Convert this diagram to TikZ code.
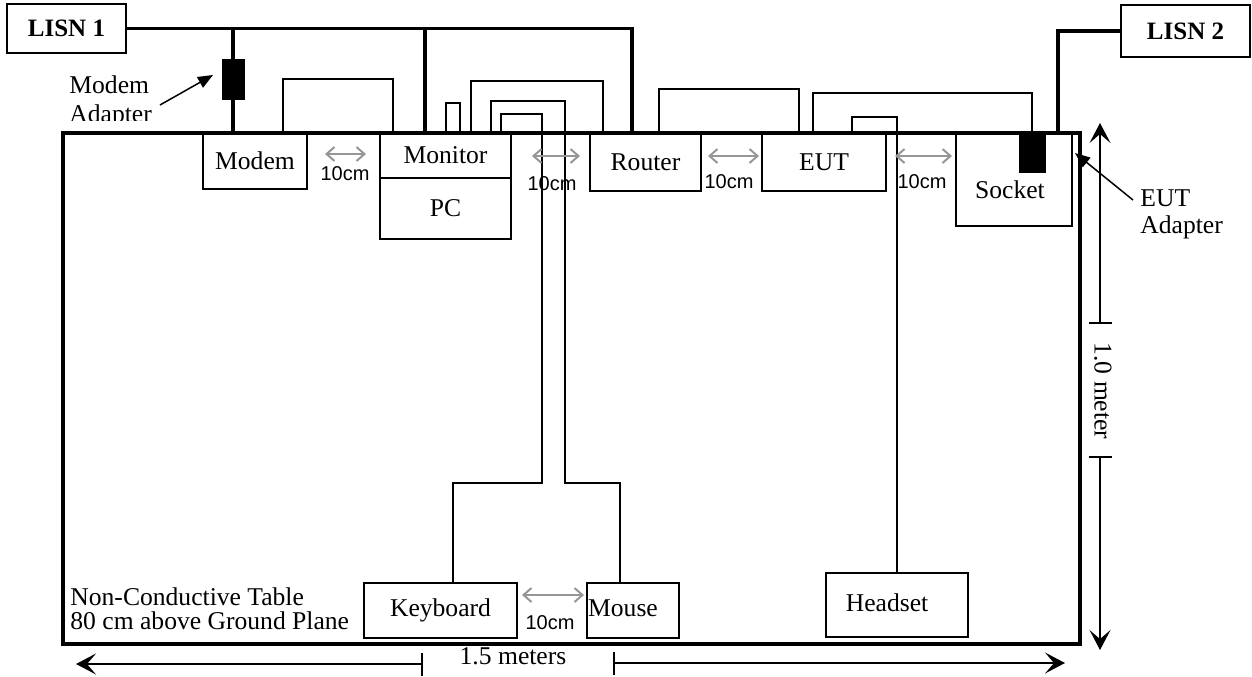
\documentclass[tikz,border=0pt]{standalone}
\usepackage{fontspec}
\setmainfont{Liberation Serif}
\newfontfamily\arialf{Liberation Sans}
\usetikzlibrary{arrows.meta,calc}
\definecolor{dimgrey}{RGB}{150,150,150}
\begin{document}
\begin{tikzpicture}[x=0.5pt,y=-0.5pt,
  txt/.style={font=\fontsize{12.8}{14}\selectfont, inner sep=0pt},
  box/.style={draw, line width=0.9pt, inner sep=0pt, outer sep=0pt, font=\fontsize{12.8}{14}\selectfont},
  lisnbox/.style={box, font=\fontsize{12.5}{14}\selectfont\bfseries},
  adapt/.style={draw, fill=black, line width=0.5pt, inner sep=0pt, outer sep=0pt},
  cable/.style={line width=0.75pt},
  power/.style={line width=1.6pt},
  gap/.style={draw=dimgrey, line width=1pt, {Straight Barb[length=4pt,width=7pt]}-{Straight Barb[length=4pt,width=7pt]}},
  gaptxt/.style={font=\arialf\fontsize{10}{12}\selectfont, inner sep=0pt},
  dimarrow/.style={line width=0.8pt, {Bar[width=11.5pt]}-{Stealth[length=10pt,width=10.5pt,inset=4.5pt]}},
  pointer/.style={line width=0.75pt, -{Triangle[length=7.5pt,width=6pt]}}
]
\useasboundingbox (0,0) rectangle (1252,676);

% boxes
\node[lisnbox, minimum width=59.5pt, minimum height=24.5pt] (lisn1) at (66.5,28.5) {LISN 1};
\node[lisnbox, minimum width=64.5pt, minimum height=26pt] (lisn2) at (1185.5,31) {LISN 2};
\node[box, minimum width=52pt, minimum height=28pt] (modem) at (255,161) {Modem};
\node[box, minimum width=65.5pt, minimum height=22.5pt] (monitor) at (445.5,155.5) {Monitor};
\node[box, minimum width=65.5pt, minimum height=30.5pt] (pc) at (445.5,208.5) {PC};
\node[box, minimum width=55.5pt, minimum height=29pt] (router) at (645.5,162) {Router};
\node[box, minimum width=62pt, minimum height=29pt] (eut) at (824,162) {EUT};
\node[box, minimum width=58pt, minimum height=46.5pt] (socket) at (1014,179.5) {};
\node[txt] (sockettxt) at (1010,190) {Socket};
\node[box, minimum width=76.5pt, minimum height=27.5pt] (keyboard) at (440.5,610.5) {Keyboard};
\node[box, minimum width=46pt, minimum height=27.5pt] (mouse) at (633,610.5) {};
\node[txt] (mousetxt) at (623,608) {Mouse};
\node[box, minimum width=71pt, minimum height=32pt] (headset) at (897,605) {};
\node[txt] (headsettxt) at (887,603) {Headset};

% adapters
\node[adapt, minimum width=11pt, minimum height=20pt] (madapt) at (233,79) {};
\node[adapt, minimum width=13pt, minimum height=19.5pt] (eadapt) at (1032,152.5) {};

% table
\draw[line width=1.8pt] (63,133) rectangle (1080,644);

% power lines
\draw[power] (lisn1.east) -| ($(router.north west)+(42,0)$);
\draw[power] (madapt.north) -- (madapt.north |- lisn1.east);
\draw[power] (madapt.south) -- (madapt.south |- modem.north);
\coordinate (m1) at ($(monitor.north west)+(45,0)$);
\draw[power] (m1) -- (m1 |- lisn1.east);
\draw[power] (lisn2.west) -| ($(socket.north west)+(102,0)$);

% cables
\draw[cable] ($(modem.north west)+(80,0)$) -- ++(0,-54) -| ($(monitor.north west)+(13,0)$);
\draw[cable] ($(monitor.north west)+(66,0)$) -- ++(0,-30) -| ($(monitor.north west)+(80,0)$);
\draw[cable] ($(monitor.north west)+(91,0)$) -- ++(0,-52) -| ($(router.north west)+(13,0)$);
\draw[cable] ($(monitor.north west)+(121,0)$) -- ++(0,-19) -- ++(41,0) -- ++(0,369) -| ($(keyboard.north west)+(89,0)$);
\draw[cable] ($(monitor.north west)+(111,0)$) -- ++(0,-32) -- ++(74,0) -- ++(0,382) -| ($(mouse.north west)+(33,0)$);
\draw[cable] ($(router.north west)+(69,0)$) -- ++(0,-44) -| ($(eut.north west)+(37,0)$);
\draw[cable] ($(eut.north west)+(51,0)$) -- ++(0,-40) -| (eadapt.north);
\draw[cable] ($(eut.north west)+(90,0)$) -- ++(0,-16) -| (headset.north);

% 10cm gaps
\draw[gap] (325,154) -- (366,154);
\node[gaptxt] (g1) at (345,174) {10cm};
\draw[gap] (532,156) -- (580,156);
\node[gaptxt] (g2) at (552,184) {10cm};
\draw[gap] (708,156) -- (759,156);
\node[gaptxt] (g3) at (729,182) {10cm};
\draw[gap] (895,156) -- (952,156);
\node[gaptxt] (g4) at (922,182) {10cm};
\draw[gap] (522,595) -- (584,595);
\node[gaptxt] (g5) at (550,623) {10cm};

% dimensions
\draw[dimarrow] (423,664) -- (76,664);
\draw[dimarrow] (613,663) -- (1065,663);
\node[txt] (w) at (513,656) {1.5 meters};
\draw[dimarrow] (1100,324) -- (1100,123);
\draw[dimarrow] (1100,456) -- (1100,650);
\node[txt, rotate=-90] (h) at (1103,391) {1.0 meter};

% labels
\node[txt, anchor=base west] (ma1) at (69,93) {Modem};
\begin{scope}
\clip (0,100) rectangle (200,120.5);
\node[txt, anchor=base west] (ma2) at (69,122) {Adapter};
\end{scope}
\coordinate (ma) at (160,105);
\draw[pointer] (ma) -- ($(madapt.west)+(-9,-4)$);

\node[txt, anchor=base west] (ea1) at (1140,206) {EUT};
\node[txt, anchor=base west] (ea2) at (1140,233) {Adapter};
\coordinate (ea) at (1133,200);
\draw[pointer] (ea) -- ($(socket.east)+(3,-26.5)$);

\node[txt, anchor=base west] (t1) at (70,605) {Non-Conductive Table};
\node[txt, anchor=base west] (t2) at (70,629) {80 cm above Ground Plane};
\end{tikzpicture}
\end{document}
